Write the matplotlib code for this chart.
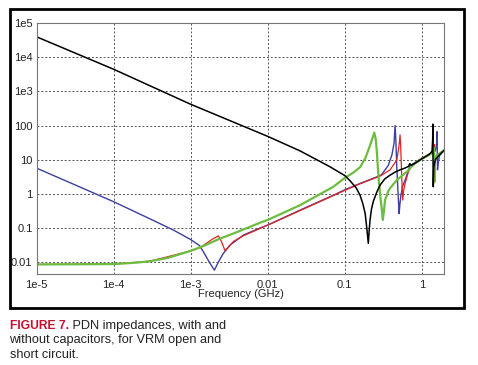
import matplotlib
matplotlib.use("Agg")
import matplotlib.pyplot as plt
from matplotlib.patches import Rectangle

plt.rcParams['font.family'] = ['Liberation Sans', 'DejaVu Sans']

# impedance curves (frequency in GHz, |Z| in ohm)
black_f = [1e-5, 1e-4, 1e-3, 0.01, 0.0263, 0.064, 0.1, 0.117, 0.14, 0.158, 0.172, 0.184,
           0.193, 0.202, 0.208, 0.213, 0.222, 0.235, 0.26, 0.288, 0.33, 0.387, 0.45, 0.52,
           0.6, 0.67, 0.7, 0.73, 0.8, 1.0, 1.2, 1.3, 1.36, 1.385, 1.39, 1.395, 1.41, 1.43,
           1.5, 1.7, 1.96]
black_z = [40000, 4470, 420, 48, 18, 6.2, 3.4, 2.4, 1.5, 0.9, 0.5, 0.26,
           0.1, 0.035, 0.09, 0.17, 0.35, 0.6, 1.1, 1.8, 2.7, 3.5, 4.3, 5.0,
           5.6, 6.3, 7.6, 6.8, 7.6, 10.5, 13.5, 15.5, 18, 40, 110, 20, 1.6, 6,
           10, 14, 19]

blue_f = [1e-5, 3e-5, 1e-4, 3e-4, 6e-4, 1e-3, 1.3e-3, 1.46e-3, 1.78e-3, 2.03e-3, 2.29e-3,
          2.65e-3, 3.24e-3, 4.82e-3, 7.9e-3, 0.01, 0.0263, 0.071, 0.1, 0.158, 0.25, 0.3,
          0.368, 0.41, 0.436, 0.45, 0.46, 0.473, 0.497, 0.508, 0.52, 0.533, 0.56, 0.607,
          0.7, 0.8, 1.0, 1.3, 1.5, 1.56, 1.58, 1.6, 1.63, 1.7, 1.96]
blue_z = [5.6, 1.9, 0.58, 0.18, 0.085, 0.045, 0.03, 0.0197, 0.009, 0.0057, 0.01,
          0.0177, 0.031, 0.061, 0.098, 0.12, 0.33, 0.9, 1.3, 2.0, 3.0, 3.6,
          6.8, 14, 30, 100, 40, 6.2, 0.65, 0.26, 0.5, 0.81, 1.6, 2.5,
          6.5, 8.0, 11, 15, 18, 30, 66, 5, 8, 13, 19]

red_f = [1e-5, 1e-4, 3e-4, 1e-3, 1.32e-3, 1.6e-3, 1.9e-3, 2.29e-3, 2.5e-3, 2.79e-3, 3.2e-3,
         3.6e-3, 4.82e-3, 7.9e-3, 0.01, 0.0263, 0.071, 0.1, 0.158, 0.288, 0.387, 0.428,
         0.473, 0.497, 0.51, 0.522, 0.532, 0.543, 0.556, 0.566, 0.58, 0.607, 0.67, 0.75,
         1.0, 1.3, 1.42, 1.45, 1.48, 1.55, 1.96]
red_z = [0.0084, 0.0086, 0.0105, 0.021, 0.026, 0.035, 0.046, 0.058, 0.04, 0.021, 0.03,
         0.04, 0.058, 0.095, 0.12, 0.32, 0.88, 1.25, 1.95, 3.3, 5, 7,
         9.7, 19, 30, 53, 25, 6.2, 1.5, 0.65, 1.2, 2, 4.4, 7,
         11, 15, 18, 28, 8, 13, 19]

green_f = [1e-5, 1e-4, 2e-4, 3e-4, 5e-4, 1e-3, 1.5e-3, 2.29e-3, 4e-3, 7.9e-3, 0.01, 0.0263,
           0.071, 0.1, 0.13, 0.158, 0.185, 0.21, 0.228, 0.242, 0.252, 0.26, 0.274, 0.29,
           0.303, 0.312, 0.322, 0.333, 0.368, 0.387, 0.473, 0.64, 0.8, 1.0, 1.3, 1.42,
           1.44, 1.46, 1.48, 1.55, 1.96]
green_z = [0.0084, 0.0086, 0.0095, 0.0105, 0.013, 0.021, 0.03, 0.046, 0.075, 0.14, 0.17, 0.46,
           1.6, 2.9, 4.2, 6.0, 11, 24, 42, 62, 40, 19, 3.1, 0.8,
           0.33, 0.17, 0.3, 0.65, 1.2, 1.44, 2.5, 4.4, 7.5, 10.5, 14.5, 17,
           22, 2.2, 9, 13, 19]

xticks = [1e-5, 1e-4, 1e-3, 0.01, 0.1, 1]
xlabels = ['1e-5', '1e-4', '1e-3', '0.01', '0.1', '1']
yticks = [0.01, 0.1, 1, 10, 100, 1e3, 1e4, 1e5]
ylabels = ['0.01', '0.1', '1', '10', '100', '1e3', '1e4', '1e5']

W, H = 478, 365
fig = plt.figure(figsize=(W / 100, H / 100), dpi=100)
fig.patch.set_facecolor('white')

# outer black frame around the chart
fig.patches.append(Rectangle((9.5 / W, 1 - 308 / H), 454 / W, 299 / H, transform=fig.transFigure,
                             fill=False, edgecolor='black', linewidth=2.0))

ax = fig.add_axes([36.7 / W, 1 - 274 / H, 407.6 / W, 250.7 / H])
ax.set_xscale('log')
ax.set_yscale('log')

ax.plot(blue_f, blue_z, color='#3b3fa0', lw=1.0)
ax.plot(red_f, red_z, color='#e3231f', lw=0.9)
ax.plot(green_f, green_z, color='#6cbd3f', lw=1.6)
ax.plot(black_f, black_z, color='black', lw=1.1)

ax.set_xlim(1e-5, 1.96)
ax.set_ylim(0.0044, 1e5)
ax.set_xticks(xticks, xlabels)
ax.set_yticks(yticks, ylabels)
ax.minorticks_off()
ax.tick_params(length=0, labelsize=8, colors='#222222')
ax.tick_params(axis='y', pad=3)
ax.tick_params(axis='x', pad=4.5)
ax.grid(True, which='major', color='#555555', linestyle=(0, (2, 2)), linewidth=0.7)
for s in ax.spines.values():
    s.set_color('#777777')
    s.set_linewidth(0.8)

ax.set_xlabel('Frequency (GHz)', fontsize=8, color='#222222', labelpad=-1)

# caption
t1 = fig.text(9.5 / W, 1 - 329 / H, 'FIGURE 7.', color='#c8102e', fontsize=8.7,
              fontweight='bold', va='baseline')
ax.annotate(' PDN impedances, with and', xy=(1, 0), xycoords=t1, va='bottom', ha='left',
            fontsize=9.2, color='#222222', annotation_clip=False)
fig.text(9.5 / W, 1 - 343.5 / H, 'without capacitors, for VRM open and', fontsize=9.2,
         color='#222222', va='baseline')
fig.text(9.5 / W, 1 - 358.5 / H, 'short circuit.', fontsize=9.2, color='#222222', va='baseline')

fig.savefig('out.png', dpi=100)
